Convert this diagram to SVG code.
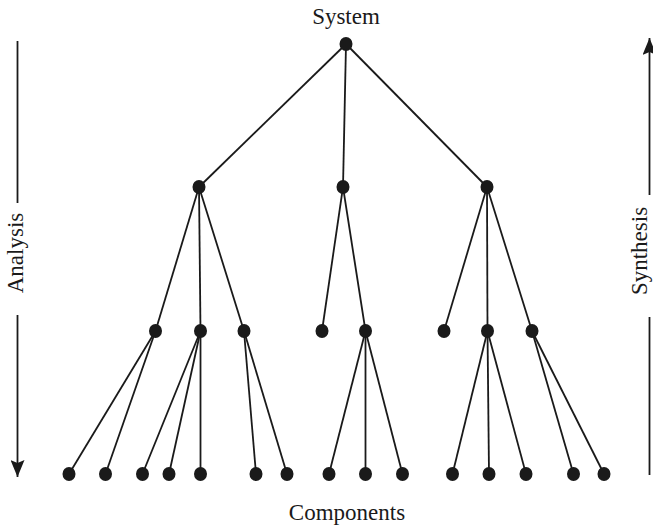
<svg xmlns="http://www.w3.org/2000/svg" width="653" height="529" viewBox="0 0 653 529">
  <defs>
    <marker id="arrow" viewBox="0 0 17 14" refX="17" refY="7" markerWidth="17" markerHeight="14" orient="auto" markerUnits="userSpaceOnUse">
      <path d="M0,0 L17,7 L0,14 L3,7 z" fill="#1a1a1a"/>
    </marker>
  </defs>
  <style>
    .edge { stroke: #1a1a1a; stroke-width: 1.8; fill: none; }
    .axis { stroke: #1a1a1a; stroke-width: 1.8; fill: none; }
    .dot { fill: #1a1a1a; }
    .label { font-family: "Liberation Serif", "Times New Roman", serif; font-size: 23px; fill: #1a1a1a; text-anchor: middle; }
  </style>
  <rect width="653" height="529" fill="#ffffff"/>

  <!-- Side arrows: analysis goes down, synthesis goes up -->
  <g id="analysis-axis">
    <line class="axis" x1="17.5" y1="41" x2="17.5" y2="203"/>
    <line class="axis" x1="17.5" y1="315" x2="17.5" y2="477" marker-end="url(#arrow)"/>
    <text class="label" transform="translate(23,253) rotate(-90)">Analysis</text>
  </g>
  <g id="synthesis-axis">
    <line class="axis" x1="649.5" y1="475" x2="649.5" y2="317"/>
    <line class="axis" x1="649.5" y1="195" x2="649.5" y2="38" marker-end="url(#arrow)"/>
    <text class="label" transform="translate(647,251) rotate(-90)">Synthesis</text>
  </g>

  <!-- Connectors -->
  <g id="connectors">
    <!-- root to level 2 -->
    <line class="edge" x1="346" y1="44" x2="199" y2="187"/>
    <line class="edge" x1="346" y1="44" x2="343" y2="187"/>
    <line class="edge" x1="346" y1="44" x2="487" y2="187"/>
    <!-- level 2 to level 3 -->
    <line class="edge" x1="199" y1="187" x2="155.5" y2="331"/>
    <line class="edge" x1="199" y1="187" x2="200.5" y2="331"/>
    <line class="edge" x1="199" y1="187" x2="244" y2="331"/>
    <line class="edge" x1="343" y1="187" x2="322" y2="331"/>
    <line class="edge" x1="343" y1="187" x2="365.5" y2="331"/>
    <line class="edge" x1="487" y1="187" x2="444" y2="331"/>
    <line class="edge" x1="487" y1="187" x2="487.5" y2="331"/>
    <line class="edge" x1="487" y1="187" x2="532" y2="331"/>
    <!-- level 3 to components -->
    <line class="edge" x1="155.5" y1="331" x2="69" y2="474"/>
    <line class="edge" x1="155.5" y1="331" x2="105.5" y2="474"/>
    <line class="edge" x1="200.5" y1="331" x2="142.5" y2="474"/>
    <line class="edge" x1="200.5" y1="331" x2="169" y2="474"/>
    <line class="edge" x1="200.5" y1="331" x2="200.5" y2="474"/>
    <line class="edge" x1="244" y1="331" x2="256" y2="474"/>
    <line class="edge" x1="244" y1="331" x2="287" y2="474"/>
    <line class="edge" x1="365.5" y1="331" x2="329" y2="474"/>
    <line class="edge" x1="365.5" y1="331" x2="365.5" y2="474"/>
    <line class="edge" x1="365.5" y1="331" x2="402.5" y2="474"/>
    <line class="edge" x1="487.5" y1="331" x2="452.5" y2="474"/>
    <line class="edge" x1="487.5" y1="331" x2="489" y2="474"/>
    <line class="edge" x1="487.5" y1="331" x2="526" y2="474"/>
    <line class="edge" x1="532" y1="331" x2="573.5" y2="474"/>
    <line class="edge" x1="532" y1="331" x2="604" y2="474"/>
  </g>

  <!-- Root -->
  <g id="system">
    <text class="label" x="346" y="24">System</text>
    <ellipse class="dot" cx="346" cy="44" rx="6.5" ry="7"/>
  </g>

  <!-- Level 2 -->
  <g id="n-a"><ellipse class="dot" cx="199" cy="187" rx="6.5" ry="7"/></g>
  <g id="n-b"><ellipse class="dot" cx="343" cy="187" rx="6.5" ry="7"/></g>
  <g id="n-c"><ellipse class="dot" cx="487" cy="187" rx="6.5" ry="7"/></g>

  <!-- Level 3 -->
  <g id="n-a1"><ellipse class="dot" cx="155.5" cy="331" rx="6.5" ry="7"/></g>
  <g id="n-a2"><ellipse class="dot" cx="200.5" cy="331" rx="6.5" ry="7"/></g>
  <g id="n-a3"><ellipse class="dot" cx="244" cy="331" rx="6.5" ry="7"/></g>
  <g id="n-b1"><ellipse class="dot" cx="322" cy="331" rx="6.5" ry="7"/></g>
  <g id="n-b2"><ellipse class="dot" cx="365.5" cy="331" rx="6.5" ry="7"/></g>
  <g id="n-c1"><ellipse class="dot" cx="444" cy="331" rx="6.5" ry="7"/></g>
  <g id="n-c2"><ellipse class="dot" cx="487.5" cy="331" rx="6.5" ry="7"/></g>
  <g id="n-c3"><ellipse class="dot" cx="532" cy="331" rx="6.5" ry="7"/></g>

  <!-- Components -->
  <g id="components">
    <g id="c1"><ellipse class="dot" cx="69" cy="474" rx="6.5" ry="7"/></g>
    <g id="c2"><ellipse class="dot" cx="105.5" cy="474" rx="6.5" ry="7"/></g>
    <g id="c3"><ellipse class="dot" cx="142.5" cy="474" rx="6.5" ry="7"/></g>
    <g id="c4"><ellipse class="dot" cx="169" cy="474" rx="6.5" ry="7"/></g>
    <g id="c5"><ellipse class="dot" cx="200.5" cy="474" rx="6.5" ry="7"/></g>
    <g id="c6"><ellipse class="dot" cx="256" cy="474" rx="6.5" ry="7"/></g>
    <g id="c7"><ellipse class="dot" cx="287" cy="474" rx="6.5" ry="7"/></g>
    <g id="c8"><ellipse class="dot" cx="329" cy="474" rx="6.5" ry="7"/></g>
    <g id="c9"><ellipse class="dot" cx="365.5" cy="474" rx="6.5" ry="7"/></g>
    <g id="c10"><ellipse class="dot" cx="402.5" cy="474" rx="6.5" ry="7"/></g>
    <g id="c11"><ellipse class="dot" cx="452.5" cy="474" rx="6.5" ry="7"/></g>
    <g id="c12"><ellipse class="dot" cx="489" cy="474" rx="6.5" ry="7"/></g>
    <g id="c13"><ellipse class="dot" cx="526" cy="474" rx="6.5" ry="7"/></g>
    <g id="c14"><ellipse class="dot" cx="573.5" cy="474" rx="6.5" ry="7"/></g>
    <g id="c15"><ellipse class="dot" cx="604" cy="474" rx="6.5" ry="7"/></g>
    <text class="label" x="347" y="520">Components</text>
  </g>
</svg>
